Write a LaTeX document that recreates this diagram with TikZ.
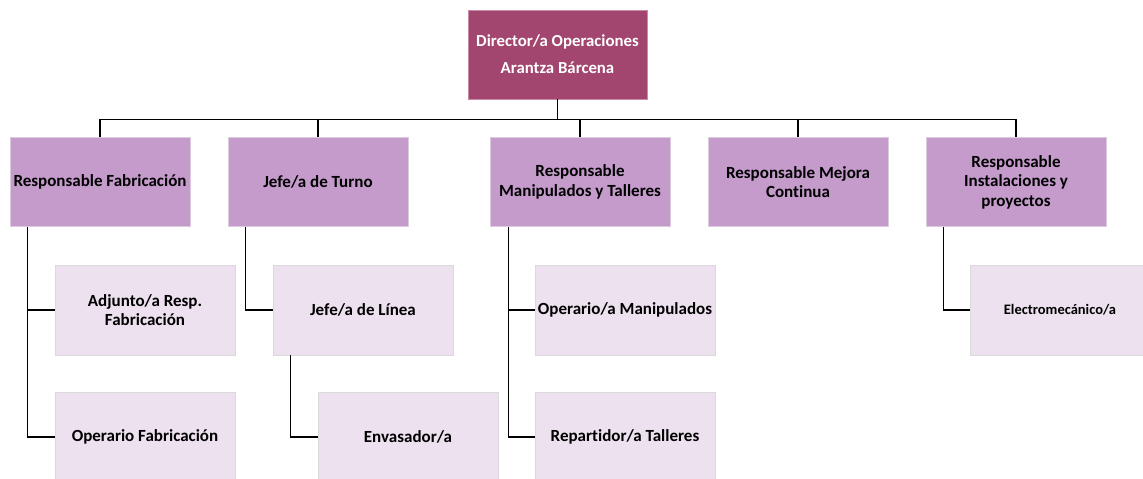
\documentclass[tikz,border=0pt]{standalone}
\usepackage{fontspec}
\setmainfont{Carlito}[Ligatures=NoCommon]
\begin{document}
\begin{tikzpicture}[x=1pt,y=-1pt,
  topbox/.style={draw=topborder,line width=0.8pt,fill=topfill,text=white,font=\bfseries\fontsize{16.8}{27}\selectfont,minimum width=179pt,minimum height=89pt,align=center,inner sep=2pt},
  lvbox/.style={draw=lvborder,line width=0.8pt,fill=lvfill,text=black,font=\bfseries\fontsize{17}{19.5}\selectfont,minimum width=180pt,minimum height=89pt,align=center,inner sep=2pt},
  subbox/.style={draw=subborder,line width=0.8pt,fill=subfill,text=black,font=\bfseries\fontsize{17}{19.5}\selectfont,minimum width=180pt,minimum height=90pt,align=center,inner sep=2pt},
  conn/.style={draw=black,line width=1.5pt}]
\definecolor{topfill}{HTML}{A3466F}
\definecolor{topborder}{HTML}{C98BA8}
\definecolor{lvfill}{HTML}{C49BCB}
\definecolor{lvborder}{HTML}{DCCBDF}
\definecolor{subfill}{HTML}{EDE0EF}
\definecolor{subborder}{HTML}{DADADA}
\clip (0,0) rectangle (1143,479);
\fill[white] (0,0) rectangle (1143,479);
\node[topbox] (top) at (557.5,54.5) {Director/a Operaciones\\Arantza Bárcena};
\node[lvbox] (fab) at (100,182) {Responsable Fabricación};
\node[lvbox] (turno) at (318,182) {Jefe/a de Turno};
\node[lvbox] (manip) at (580,182) {Responsable\\Manipulados y Talleres};
\node[lvbox] (mejora) at (798,182) {Responsable Mejora\\Continua};
\node[lvbox] (inst) at (1016,182) {Responsable\\Instalaciones y\\proyectos};
\node[subbox] (adj) at (145,310) {Adjunto/a Resp.\\Fabricación};
\node[subbox] (opfab) at (145,437) {Operario Fabricación};
\node[subbox] (linea) at (363,310) {Jefe/a de Línea};
\node[subbox] (env) at (408,437) {Envasador/a};
\node[subbox] (opman) at (625,310) {Operario/a Manipulados};
\node[subbox] (rep) at (625,437) {Repartidor/a Talleres};
\node[subbox,font=\bfseries\fontsize{14.5}{17}\selectfont] (elec) at (1060,310) {Electromecánico/a};
\coordinate (bus) at ([yshift=-20pt]top.south);
\foreach \n in {fab,turno,manip,mejora,inst}
  \draw[conn] (top.south) -- (bus) -| (\n.north);
\draw[conn] ([xshift=18pt]fab.south west) |- (adj.west);
\draw[conn] ([xshift=18pt]fab.south west) |- (opfab.west);
\draw[conn] ([xshift=18pt]turno.south west) |- (linea.west);
\draw[conn] ([xshift=18pt]linea.south west) |- (env.west);
\draw[conn] ([xshift=19pt]manip.south west) |- (opman.west);
\draw[conn] ([xshift=19pt]manip.south west) |- (rep.west);
\draw[conn] ([xshift=18pt]inst.south west) |- (elec.west);
\end{tikzpicture}
\end{document}
